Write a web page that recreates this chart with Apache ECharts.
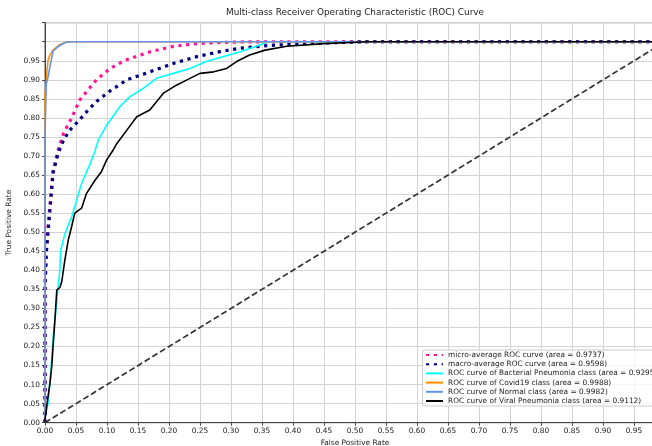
<!DOCTYPE html>
<html><head><meta charset="utf-8">
<script src="https://cdn.jsdelivr.net/npm/echarts@6/dist/echarts.min.js"></script>
<style>html,body{margin:0;padding:0;background:#fff}#c{width:652px;height:446px}</style>
</head><body><div id="c"></div>
<script>
const xTickLabels = ['0.00','0.05','0.10','0.15','0.20','0.25','0.30','0.35','0.40','0.45','0.50','0.55','0.60','0.65','0.70','0.75','0.80','0.85','0.90','0.95'];
const yTickLabels = ['0.00','0.05','0.10','0.15','0.20','0.25','0.30','0.35','0.40','0.45','0.50','0.55','0.60','0.65','0.70','0.75','0.80','0.85','0.90','0.95'];

const seriesNames = [
  'micro-average ROC curve (area = 0.9737)',
  'macro-average ROC curve (area = 0.9598)',
  'ROC curve of Bacterial Pneumonia class (area = 0.9295)',
  'ROC curve of Covid19 class (area = 0.9988)',
  'ROC curve of Normal class (area = 0.9982)',
  'ROC curve of Viral Pneumonia class (area = 0.9112)'
];

const microFpr = [0,0,0.001,0.002,0.004,0.007,0.009,0.013,0.021,0.03,0.043,0.056,0.069,0.083,0.105,0.13,0.17,0.207,0.25,0.3,0.35,1];
const microTpr = [0,0.35,0.40,0.445,0.50,0.55,0.59,0.66,0.715,0.76,0.80,0.847,0.873,0.90,0.93,0.952,0.974,0.988,0.996,0.999,1.0,1];

const macroFpr = [0,0,0.002,0.007,0.013,0.021,0.03,0.04,0.053,0.067,0.083,0.105,0.132,0.169,0.207,0.245,0.282,0.315,0.36,0.43,0.52,1];
const macroTpr = [0,0.35,0.445,0.54,0.655,0.707,0.742,0.768,0.79,0.816,0.843,0.871,0.9,0.921,0.943,0.961,0.974,0.983,0.99,0.996,1.0,1];

const bactFpr = [0,0,0.0016,0.005,0.008,0.011,0.013,0.016,0.021,0.024,0.025,0.032,0.038,0.043,0.048,0.059,0.066,0.073,0.081,0.086,0.0995,0.11,0.121,0.137,0.159,0.18,0.207,0.234,0.26,0.288,0.315,0.335,0.36,1];
const bactTpr = [0,0.02,0.03,0.05,0.11,0.17,0.225,0.27,0.355,0.40,0.45,0.495,0.52,0.54,0.567,0.628,0.655,0.68,0.715,0.742,0.781,0.805,0.83,0.856,0.878,0.904,0.917,0.93,0.948,0.961,0.974,0.985,1.0,1];

const covidFpr = [0,0,0.002,0.003,0.005,0.008,0.013,0.024,0.037,1];
const covidTpr = [0,0.86,0.89,0.92,0.952,0.965,0.978,0.993,1.0,1];

const normalFpr = [0,0,0.002,0.002,0.004,0.008,0.013,0.021,0.032,0.043,1];
const normalTpr = [0,0.75,0.75,0.89,0.9,0.935,0.975,0.987,0.998,1.0,1];

const viralFpr = [0,0,0.0016,0.0027,0.005,0.008,0.011,0.013,0.016,0.019,0.024,0.027,0.032,0.0376,0.043,0.048,0.059,0.067,0.081,0.091,0.0995,0.11,0.116,0.132,0.148,0.169,0.191,0.212,0.229,0.25,0.272,0.293,0.309,0.33,0.355,0.39,0.45,0.52,1];
const viralTpr = [0,0.01,0.025,0.042,0.07,0.103,0.15,0.2,0.27,0.348,0.355,0.37,0.427,0.48,0.515,0.55,0.563,0.602,0.637,0.659,0.69,0.716,0.733,0.768,0.803,0.821,0.865,0.886,0.9,0.917,0.921,0.93,0.948,0.965,0.978,0.988,0.995,1.0,1];

const chanceFpr = [0,1];
const chanceTpr = [0,1];

const FONT = 'DejaVu Sans';
function pairs(xs, ys){ return xs.map((x,i)=>[x, ys[i]]); }
function tickFmt(labels){ return function(v){ const i = Math.round(v/0.05); return (Math.abs(v - i*0.05) < 1e-6 && i < labels.length) ? labels[i] : ''; }; }

function lineSeries(name, xs, ys, color, width, type, z){
  return {
    name: name, type: 'line', data: pairs(xs, ys), showSymbol: false, symbol: 'none',
    lineStyle: {color: color, width: width, type: type, cap: 'butt'},
    itemStyle: {color: color}, z: z, silent: true, clip: true, animation: false
  };
}

const chart = echarts.init(document.getElementById('c'), null, {renderer: 'canvas'});
chart.setOption({
  animation: false,
  backgroundColor: '#ffffff',
  title: {
    text: 'Multi-class Receiver Operating Characteristic (ROC) Curve',
    left: 355, top: 8.5, padding: 0, textAlign: 'center',
    textStyle: {fontFamily: FONT, fontSize: 8.9, fontWeight: 'normal', color: '#222'}
  },
  grid: {left: 45, top: 22.7, right: -13, bottom: 23.3, outerBoundsMode: 'none', containLabel: false,
         show: true, borderColor: '#555', borderWidth: 1, backgroundColor: 'transparent'},
  xAxis: {
    type: 'value', min: 0, max: 1, interval: 0.05,
    name: 'False Positive Rate', nameLocation: 'middle', nameGap: 14,
    nameTextStyle: {fontFamily: FONT, fontSize: 7.4, color: '#222'},
    axisLine: {show: true, lineStyle: {color: '#444', width: 1}},
    axisTick: {show: true, length: 3, lineStyle: {color: '#444', width: 1}},
    axisLabel: {fontFamily: FONT, fontSize: 7.4, color: '#222', margin: 5, formatter: tickFmt(xTickLabels)},
    splitLine: {show: true, lineStyle: {color: '#d3d3d3', width: 1}}
  },
  yAxis: {
    type: 'value', min: 0, max: 1.05, interval: 0.05,
    name: 'True Positive Rate', nameLocation: 'middle', nameGap: 19,
    nameTextStyle: {fontFamily: FONT, fontSize: 7.4, color: '#222'},
    axisLine: {show: true, lineStyle: {color: '#444', width: 1}},
    axisTick: {show: true, length: 3, lineStyle: {color: '#444', width: 1}},
    axisLabel: {fontFamily: FONT, fontSize: 7.4, color: '#222', margin: 5, formatter: tickFmt(yTickLabels)},
    splitLine: {show: true, lineStyle: {color: '#d3d3d3', width: 1}}
  },
  legend: {
    orient: 'vertical', left: 422.5, top: 350,
    padding: [1, 4, 1, 2.5], itemGap: 1.2, itemWidth: 17, itemHeight: 10,
    backgroundColor: 'rgba(255,255,255,0.8)', borderColor: '#cccccc', borderWidth: 1, borderRadius: 2,
    itemStyle: {opacity: 0, borderWidth: 0},
    textStyle: {fontFamily: FONT, fontSize: 7.4, color: '#222'},
    data: seriesNames, selectedMode: false
  },
  series: [
    lineSeries(seriesNames[0], microFpr, microTpr, '#ff1493', 3.2, [3.2, 4.6], 2),
    lineSeries(seriesNames[1], macroFpr, macroTpr, '#000080', 3.2, [3.2, 4.6], 3),
    lineSeries(seriesNames[2], bactFpr, bactTpr, '#00ffff', 1.6, 'solid', 4),
    lineSeries(seriesNames[3], covidFpr, covidTpr, '#ff8c00', 1.6, 'solid', 5),
    lineSeries(seriesNames[4], normalFpr, normalTpr, '#6495ed', 1.6, 'solid', 6),
    lineSeries(seriesNames[5], viralFpr, viralTpr, '#000000', 1.6, 'solid', 7),
    lineSeries('chance', chanceFpr, chanceTpr, '#333333', 1.7, [6, 3], 8)
  ]
});
</script>
</body></html>
